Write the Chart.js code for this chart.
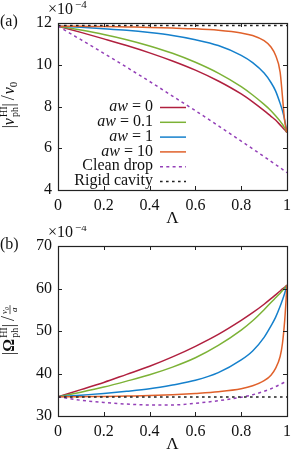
<!DOCTYPE html>
<html>
<head>
<meta charset="utf-8">
<script src="https://cdn.jsdelivr.net/npm/chart.js@4.4.1/dist/chart.umd.min.js"></script>
<style>
html, body { margin: 0; padding: 0; background: #fff; }
#wrap { position: relative; width: 297px; height: 452px; }
canvas { position: absolute; left: 0; }
</style>
</head>
<body>
<div id="wrap">
  <canvas id="chartA" width="297" height="226" style="top:0"></canvas>
  <canvas id="chartB" width="297" height="226" style="top:226px"></canvas>
</div>
<script>
'use strict';

// ---- data (values in units of 1e-4) ----
var lambda = [0, 0.1, 0.2, 0.3, 0.4, 0.5, 0.6, 0.7, 0.8, 0.85, 0.9, 0.93, 0.95, 0.97, 0.98, 0.99, 1];

var legendLabels = ['aw = 0', 'aw = 0.1', 'aw = 1', 'aw = 10', 'Clean drop', 'Rigid cavity'];

// panel (a): |v_ph^HI| / v0
var velAw0    = [11.85, 11.55, 11.24, 10.92, 10.57, 10.18, 9.74, 9.22, 8.6, 8.22, 7.8, 7.53, 7.35, 7.12, 7.0, 6.88, 6.75];
var velAw01   = [11.85, 11.66, 11.45, 11.2, 10.9, 10.55, 10.12, 9.6, 8.95, 8.55, 8.1, 7.8, 7.56, 7.3, 7.15, 6.97, 6.75];
var velAw1    = [11.85, 11.8, 11.73, 11.65, 11.54, 11.4, 11.2, 10.92, 10.45, 10.1, 9.6, 9.15, 8.75, 8.15, 7.8, 7.35, 6.75];
var velAw10   = [11.85, 11.84, 11.83, 11.81, 11.79, 11.76, 11.72, 11.65, 11.52, 11.4, 11.15, 10.85, 10.45, 9.65, 8.5, 7.3, 6.75];
var velClean  = [11.85, 11.2, 10.55, 9.88, 9.2, 8.5, 7.8, 7.08, 6.34, 5.97, 5.6, 5.37, 5.22, 5.07, 4.99, 4.91, 4.83];
var velRigid  = [11.88, 11.88, 11.88, 11.88, 11.88, 11.88, 11.88, 11.88, 11.88, 11.88, 11.88, 11.88, 11.88, 11.88, 11.88, 11.88, 11.88];

// panel (b): |Omega_ph^HI| / (v0/a)
var rotAw0    = [34.5, 36.2, 37.9, 39.8, 41.7, 43.9, 46.4, 49.2, 52.5, 54.3, 56.3, 57.6, 58.5, 59.4, 59.9, 60.3, 60.8];
var rotAw01   = [34.5, 35.6, 36.8, 38.2, 39.7, 41.5, 43.7, 46.6, 50.2, 52.4, 55.0, 56.7, 57.8, 58.9, 59.5, 60.1, 60.8];
var rotAw1    = [34.5, 34.9, 35.3, 35.8, 36.4, 37.3, 38.4, 40.2, 43.2, 45.3, 48.5, 51.2, 53.2, 55.8, 57.3, 58.9, 60.8];
var rotAw10   = [34.5, 34.55, 34.6, 34.7, 34.8, 35.0, 35.3, 35.7, 36.4, 37.1, 38.3, 39.6, 41.2, 44.0, 47.0, 52.5, 60.8];
var rotClean  = [34.5, 33.7, 33.2, 32.8, 32.6, 32.6, 33.0, 33.6, 34.4, 35.0, 35.8, 36.4, 36.9, 37.4, 37.7, 37.95, 38.2];
var rotRigid  = [34.5, 34.5, 34.5, 34.5, 34.5, 34.5, 34.5, 34.5, 34.5, 34.5, 34.5, 34.5, 34.5, 34.5, 34.5, 34.5, 34.5];

var xTicks = [0, 0.2, 0.4, 0.6, 0.8, 1];

// ---- styles ----
var SERIF = '"Liberation Serif", "DejaVu Serif", serif';
var colors = ['#b0203f', '#7cb236', '#1580cc', '#e0612b', '#9440b8', '#222222'];
var dashes = [[], [], [], [], [3, 3.3], [2.6, 3.4]];

function toPoints(ys) {
    return lambda.map(function (x, i) { return { x: x, y: ys[i] }; });
}

function makeDatasets(series) {
    return series.map(function (ys, i) {
        return {
            label: legendLabels[i],
            data: toPoints(ys),
            borderColor: colors[i],
            borderWidth: 1.5,
            borderDash: dashes[i],
            pointRadius: 0,
            fill: false,
            cubicInterpolationMode: 'monotone',
            order: 6 - i
        };
    });
}

// draw a run of text pieces, rotated -90deg, centred on (cx, cy)
function drawRich(ctx, parts, cx, cy) {
    var total = 0, pend = 0;
    parts.forEach(function (p) {
        ctx.font = p.f;
        p.w = p.rule ? p.rule : ctx.measureText(p.t).width;
        if (p.stay) { pend = Math.max(pend, p.w); p.adv = 0; }
        else { p.adv = Math.max(p.w, pend) + (p.gap || 0); pend = 0; }
        total += p.adv;
    });
    ctx.save();
    ctx.translate(cx, cy);
    ctx.rotate(-Math.PI / 2);
    ctx.fillStyle = '#111';
    ctx.strokeStyle = '#111';
    ctx.textBaseline = 'alphabetic';
    ctx.textAlign = 'left';
    var x = -total / 2;
    parts.forEach(function (p) {
        if (p.rule) {
            ctx.lineWidth = 0.7;
            ctx.beginPath();
            ctx.moveTo(x, p.dy);
            ctx.lineTo(x + p.rule, p.dy);
            ctx.stroke();
        } else {
            ctx.font = p.f;
            ctx.fillText(p.t, x + (p.dx || 0), p.dy || 0);
        }
        x += p.adv;
    });
    ctx.restore();
}

var titleA = [
    { t: '|', f: '16px ' + SERIF },
    { t: 'v', f: 'italic 16px ' + SERIF, gap: 1 },
    { t: 'HI', f: '10px ' + SERIF, dy: -7, stay: true },
    { t: 'ph', f: '10px ' + SERIF, dy: 4 },
    { t: '|', f: '16px ' + SERIF, gap: 3 },
    { t: '/', f: '18px ' + SERIF, gap: 1 },
    { t: 'v', f: 'italic 16px ' + SERIF },
    { t: '0', f: '11px ' + SERIF, dy: 3 }
];

var titleB = [
    { t: '|', f: '16px ' + SERIF },
    { t: '\u03A9', f: 'bold 16px ' + SERIF, gap: 1 },
    { t: 'HI', f: '10px ' + SERIF, dy: -7, stay: true },
    { t: 'ph', f: '10px ' + SERIF, dy: 4 },
    { t: '|', f: '16px ' + SERIF, gap: 3 },
    { t: '/', f: '18px ' + SERIF, gap: 2 },
    { t: 'v\u2080', f: 'italic 9px ' + SERIF, dy: -7, stay: true },
    { rule: 9, f: '9px ' + SERIF, dy: -4, stay: true },
    { t: 'a', f: 'italic 9px ' + SERIF, dx: 2, dy: 3 }
];

// frame, inward ticks on all sides, labels and legend
var decorPlugin = {
    id: 'decor',
    afterDraw: function (chart, args, opts) {
        var ctx = chart.ctx;
        var a = chart.chartArea;
        var sx = chart.scales.x, sy = chart.scales.y;
        var tl = 4;
        ctx.save();
        ctx.strokeStyle = '#222';
        ctx.lineWidth = 1;
        ctx.beginPath();
        sx.ticks.forEach(function (t) {
            var px = Math.round(sx.getPixelForValue(t.value)) + 0.5;
            ctx.moveTo(px, a.bottom); ctx.lineTo(px, a.bottom - tl);
            ctx.moveTo(px, a.top); ctx.lineTo(px, a.top + tl);
        });
        sy.ticks.forEach(function (t) {
            var py = Math.round(sy.getPixelForValue(t.value)) + 0.5;
            ctx.moveTo(a.left, py); ctx.lineTo(a.left + tl, py);
            ctx.moveTo(a.right, py); ctx.lineTo(a.right - tl, py);
        });
        ctx.stroke();
        ctx.lineWidth = 1.2;
        ctx.strokeRect(Math.round(a.left) + 0.5, Math.round(a.top) + 0.5,
            Math.round(a.right - a.left), Math.round(a.bottom - a.top));

        ctx.fillStyle = '#111';
        ctx.textBaseline = 'middle';
        // panel label
        ctx.textAlign = 'left';
        ctx.font = '16px ' + SERIF;
        ctx.fillText(opts.panel, 0, a.top - 1);
        // x 10^-4
        ctx.fillText('\u00D710', 48, a.top - 13);
        ctx.font = '11px ' + SERIF;
        ctx.fillText('\u22124', 75, a.top - 18);
        // x title
        ctx.textAlign = 'center';
        ctx.font = '17px ' + SERIF;
        ctx.fillText('\u039B', (a.left + a.right) / 2, a.bottom + 29);
        // y title
        drawRich(ctx, opts.yTitle, 14, opts.yTitleY);

        // legend
        if (opts.legend) {
            chart.data.datasets.forEach(function (ds, i) {
                var y = 107 + 14.8 * i;
                var lab = ds.label;
                ctx.textAlign = 'right';
                ctx.textBaseline = 'middle';
                if (lab.indexOf('aw') === 0) {
                    var rest = lab.slice(2);
                    ctx.font = '16px ' + SERIF;
                    var rw = ctx.measureText(rest).width;
                    ctx.fillText(rest, 153, y);
                    ctx.font = 'italic 16px ' + SERIF;
                    ctx.fillText('aw', 153 - rw, y);
                } else {
                    ctx.font = '16px ' + SERIF;
                    ctx.fillText(lab, 153, y);
                }
                ctx.strokeStyle = ds.borderColor;
                ctx.lineWidth = ds.borderWidth;
                ctx.setLineDash(ds.borderDash);
                ctx.beginPath();
                ctx.moveTo(160, y + 0.5);
                ctx.lineTo(186, y + 0.5);
                ctx.stroke();
                ctx.setLineDash([]);
            });
        }
        ctx.restore();
    }
};

function makeChart(id, series, yMin, yMax, yStep, topPad, decor) {
    return new Chart(document.getElementById(id), {
        type: 'line',
        data: { datasets: makeDatasets(series) },
        plugins: [decorPlugin],
        options: {
            responsive: false,
            animation: false,
            devicePixelRatio: 1,
            events: [],
            layout: { padding: { top: topPad, right: 5, left: 0, bottom: 0 } },
            plugins: {
                legend: { display: false },
                tooltip: { enabled: false },
                decor: decor
            },
            scales: {
                x: {
                    type: 'linear',
                    min: 0, max: 1,
                    afterFit: function (s) { s.height = 36; },
                    afterBuildTicks: function (s) {
                        s.ticks = xTicks.map(function (v) { return { value: v }; });
                    },
                    grid: { display: false, drawTicks: false },
                    border: { display: false },
                    ticks: {
                        padding: 6,
                        color: '#111',
                        font: { family: SERIF, size: 16 },
                        maxRotation: 0,
                        callback: function (v) { return String(+v.toFixed(1)); }
                    }
                },
                y: {
                    min: yMin, max: yMax,
                    afterFit: function (s) { s.width = 58; },
                    grid: { display: false, drawTicks: false },
                    border: { display: false },
                    ticks: {
                        stepSize: yStep,
                        padding: 6,
                        color: '#111',
                        font: { family: SERIF, size: 16 }
                    }
                }
            }
        }
    });
}

var chartA = makeChart('chartA',
    [velAw0, velAw01, velAw1, velAw10, velClean, velRigid],
    4, 12, 2, 23,
    { panel: '(a)', yTitle: titleA, yTitleY: 105, legend: true });

var chartB = makeChart('chartB',
    [rotAw0, rotAw01, rotAw1, rotAw10, rotClean, rotRigid],
    30, 70, 10, 20,
    { panel: '(b)', yTitle: titleB, yTitleY: 104, legend: false });
</script>
</body>
</html>
